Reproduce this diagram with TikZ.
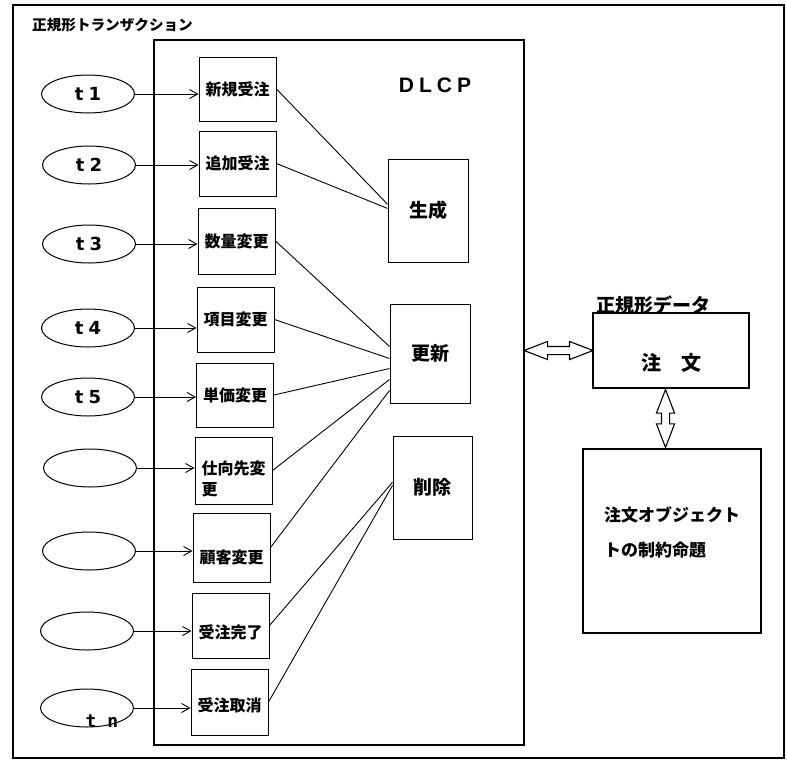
\documentclass[tikz,border=0pt]{standalone}
\usepackage{fontspec}
\usepackage{tikz}
\usetikzlibrary{arrows.meta,shapes.geometric,shapes.arrows,positioning,calc}
\newfontfamily\jpfont{Noto Sans CJK JP}
\newfontfamily\latinfont{DejaVu Sans}
\newfontfamily\tnfont{DejaVu Sans Mono}
\newfontfamily\dlcpfont{Liberation Sans}

\tikzset{
  frame/.style={draw,line width=1.8pt,inner sep=0pt},
  tnode/.style={draw,ellipse,line width=1pt,minimum width=93pt,minimum height=38pt,inner sep=0pt,
    font=\latinfont\bfseries\fontsize{18}{18}\selectfont},
  opbox/.style={draw,line width=1pt,minimum width=77pt,inner sep=0pt,align=left,
    font=\jpfont\bfseries\fontsize{16}{21}\selectfont},
  procbox/.style={draw,line width=1pt,inner sep=0pt,
    font=\jpfont\bfseries\fontsize{19}{19}\selectfont},
  databox/.style={draw,line width=1.6pt,inner sep=0pt},
  hollow/.style={draw,double arrow,line width=1.1pt,inner xsep=0pt,inner ysep=3.5pt,
    double arrow head extend=5pt,double arrow tip angle=42},
  conn/.style={line width=0.9pt},
}

\begin{document}
\begin{tikzpicture}[x=1pt,y=-1pt,>={Straight Barb[length=8pt,width=9pt]}]
\useasboundingbox (0,0) rectangle (787,761);
% frames
\node[frame,minimum width=771pt,minimum height=753pt] (outer) at (398.5,381.5) {};
\node[anchor=west,inner sep=0pt,font=\jpfont\bfseries\fontsize{14.6}{14.6}\selectfont] (title) at (32,25) {正規形トランザクション};
\node[frame,minimum width=370pt,minimum height=705pt] (dlcp) at (339,392.5) {};
\node[font=\dlcpfont\bfseries\fontsize{21}{21}\selectfont] (dlcplabel) at (435,85) {D\kern5pt L\kern5pt C\kern5pt P};

% transactions
\foreach \n/\x/\y/\txt in {t1/88/94/t\hspace{5pt}1,t2/89/165/t\hspace{5pt}2,t3/89/244/t\hspace{5pt}3,
  t4/88/328/t\hspace{5pt}4,t5/88/397/t\hspace{5pt}5,e6/90/468/{},e7/89/551/{},e8/87/631/{},tn/87/708/{}}
  \node[tnode] (\n) at (\x,\y) {\txt};
\node[anchor=base,inner sep=0pt,font=\tnfont\bfseries\fontsize{18}{18}\selectfont] (tnlabel) at (102,727) {t n};

% operations
\foreach \n/\x/\y/\h/\th/\txt in {b1/237.5/89/64/14/新規受注,b2/237.5/163.5/65/14/追加受注,b3/236.5/241/66/14/数量変更,
  b4/235.5/319.5/65/14/項目変更,b5/235/395/64/14/単価変更,b6/233.5/470.5/67/51/{仕向先変\\更},
  b7/231.5/547.5/69/34/顧客変更,b8/230.5/625.5/65/28/受注完了,b9/229.5/702/66/20/受注取消}
  \node[opbox,minimum height=\h pt,text height=\th pt] (\n) at (\x,\y) {\txt};

\foreach \s/\d in {t1/b1,t2/b2,t3/b3,t4/b4,t5/b5,e6/b6,e7/b7,e8/b8,tn/b9}
  \draw[conn,->] (\s.east) -- (\s.east -| \d.west);

% processes
\node[procbox,minimum width=80pt,minimum height=103pt] (seisei) at (428,210.5) {生成};
\node[procbox,minimum width=80pt,minimum height=99pt] (koushin) at (430,353.5) {更新};
\node[procbox,minimum width=79pt,minimum height=103pt] (sakujo) at (432.5,487.5) {削除};

\foreach \s/\d/\f in {b1/seisei/0.44,b2/seisei/0.48,b3/koushin/0.43,b4/koushin/0.55,b5/koushin/0.65,
  b6/koushin/0.76,b7/koushin/0.87,b8/sakujo/0.45,b9/sakujo/0.48}
  \draw[conn] (\s.east) -- ($(\d.north west)!\f!(\d.south west)$);

% data
\node[databox,minimum width=156pt,minimum height=75pt,
  label={[font=\jpfont\bfseries\fontsize{20}{20}\selectfont,yshift=-12pt]center:注\hspace{1em}文}] (chumon) at (671,350.5) {};
\node[above right=-2pt and 4pt of chumon.north west,inner sep=0pt,
  font=\jpfont\bfseries\fontsize{19}{19}\selectfont] (datalabel) {正規形データ};
\node[databox,minimum width=178pt,minimum height=184pt,
  label={[font=\jpfont\bfseries\fontsize{17}{35}\selectfont,align=left,yshift=9pt]center:注文オブジェクト\\トの制約命題}] (seiyaku) at (672,541) {};

\node[hollow,minimum height=69pt] (dataarrow) at ($(dlcp.east |- chumon.west)!0.5!(chumon.west)$) {};
\node[hollow,minimum height=58pt,rotate=90] (constarrow) at ($(chumon.south)!0.5!(seiyaku.north)+(-6,0)$) {};
\end{tikzpicture}
\end{document}
